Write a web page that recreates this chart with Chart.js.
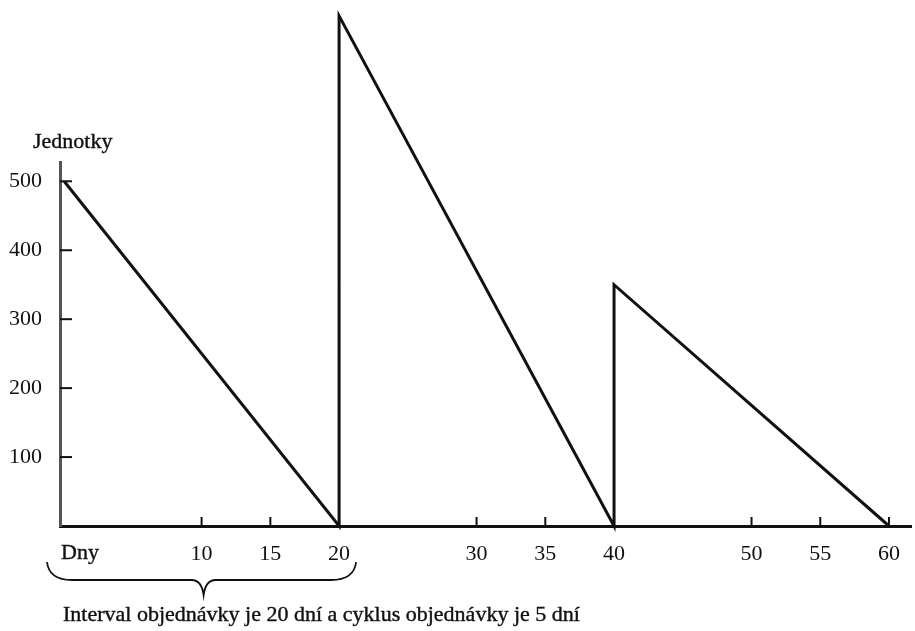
<!DOCTYPE html>
<html>
<head>
<meta charset="utf-8">
<script src="https://cdn.jsdelivr.net/npm/chart.js@4/dist/chart.umd.min.js"></script>
<style>
  body { margin: 0; background: #fff; }
  #wrap { width: 915px; height: 631px; position: relative; }
</style>
</head>
<body>
<div id="wrap"><canvas id="graf"></canvas></div>
<script>
// data
const dny = [0, 20, 20, 40, 40, 60];
const jednotky = [500, 0, 740, 0, 350, 0];
const xTicks = [0, 10, 15, 20, 30, 35, 40, 50, 55, 60];
const yTicks = [100, 200, 300, 400, 500];
const popisY = "Jednotky";
const popisX = "Dny";
const poznamka = "Interval objednávky je 20 dní a cyklus objednávky je 5 dní";

const pismo = '"Liberation Serif", "DejaVu Serif", serif';

// inner tick marks, labels and the brace under the first cycle
const dokresleni = {
  id: "dokresleni",
  afterDraw(chart) {
    const ctx = chart.ctx;
    const sx = chart.scales.x, sy = chart.scales.y;
    const x0 = chart.chartArea.left;
    const y0 = sy.getPixelForValue(0);
    ctx.save();
    ctx.strokeStyle = "#111";
    ctx.lineWidth = 2;
    yTicks.forEach((v) => {
      const y = sy.getPixelForValue(v);
      ctx.beginPath();
      ctx.moveTo(x0, y);
      ctx.lineTo(x0 + 12, y);
      ctx.stroke();
    });
    xTicks.forEach((v) => {
      if (v === 0) return;
      const x = sx.getPixelForValue(v);
      ctx.beginPath();
      ctx.moveTo(x, y0);
      ctx.lineTo(x, y0 - 9);
      ctx.stroke();
    });

    ctx.fillStyle = "#111";
    ctx.font = "22px " + pismo;
    ctx.textBaseline = "middle";
    ctx.textAlign = "left";
    ctx.lineWidth = 0.4;
    ctx.fillText(popisY, 33, 142);
    ctx.strokeText(popisY, 33, 142);
    ctx.fillText(popisX, x0 + 1, 553);
    ctx.strokeText(popisX, x0 + 1, 553);

    // brace
    const l = x0 - 13, r = sx.getPixelForValue(20) + 17;
    const m = sx.getPixelForValue(10) + 2;
    const top = 562, mid = 580, tip = 595;
    ctx.lineWidth = 1.8;
    ctx.beginPath();
    ctx.moveTo(l, top);
    ctx.quadraticCurveTo(l + 2, mid, l + 25, mid);
    ctx.lineTo(m - 12, mid);
    ctx.quadraticCurveTo(m - 2, mid, m, tip);
    ctx.quadraticCurveTo(m + 2, mid, m + 12, mid);
    ctx.lineTo(r - 25, mid);
    ctx.quadraticCurveTo(r - 2, mid, r, top);
    ctx.stroke();

    ctx.lineWidth = 0.4;
    ctx.fillText(poznamka, 63, 615);
    ctx.strokeText(poznamka, 63, 615);
    ctx.restore();
  },
};

new Chart(document.getElementById("graf"), {
  type: "line",
  data: {
    datasets: [
      {
        data: dny.map((d, i) => ({ x: d, y: jednotky[i] })),
        borderColor: "#111",
        borderWidth: 3,
        pointRadius: 0,
        tension: 0,
        clip: false,
      },
    ],
  },
  options: {
    responsive: true,
    maintainAspectRatio: false,
    animation: false,
    layout: { padding: { top: 162, right: 0, left: 0, bottom: 0 } },
    plugins: {
      legend: { display: false },
      tooltip: { enabled: false },
    },
    scales: {
      x: {
        type: "linear",
        min: -0.3,
        max: 61.66,
        afterBuildTicks: (s) => { s.ticks = xTicks.map((v) => ({ value: v })); },
        afterFit: (s) => { s.height = 105; },
        grid: { drawOnChartArea: false, drawTicks: false },
        border: { color: "#111", width: 3 },
        ticks: {
          padding: 15,
          maxRotation: 0,
          autoSkip: false,
          color: "#111",
          font: { family: pismo, size: 22 },
          callback: (v) => (v === 0 ? "" : String(v)),
        },
      },
      y: {
        type: "linear",
        min: 0,
        max: 528,
        afterBuildTicks: (s) => { s.ticks = yTicks.map((v) => ({ value: v })); },
        afterFit: (s) => { s.width = 60; },
        grid: { drawOnChartArea: false, drawTicks: false },
        border: { color: "#555", width: 3 },
        ticks: {
          padding: 18,
          autoSkip: false,
          color: "#111",
          font: { family: pismo, size: 22 },
        },
      },
    },
  },
  plugins: [dokresleni],
});
</script>
</body>
</html>
